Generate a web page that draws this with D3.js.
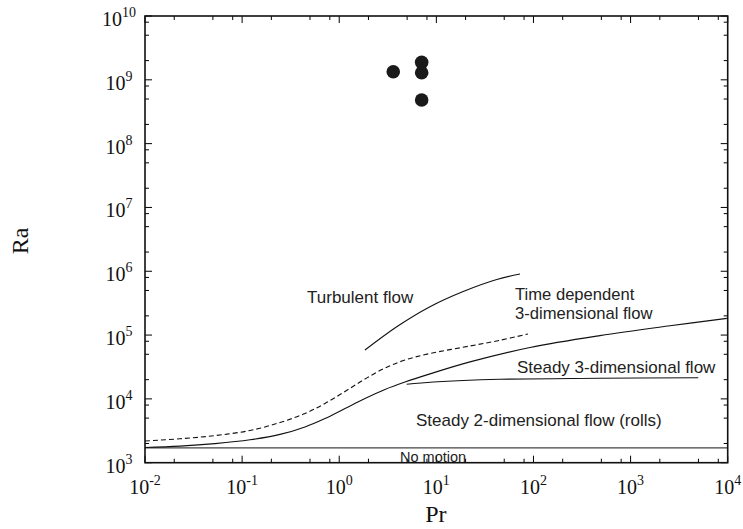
<!DOCTYPE html>
<html>
<head>
<meta charset="utf-8">
<script src="https://cdn.jsdelivr.net/npm/d3@7"></script>
<style>
  html, body { margin: 0; padding: 0; background: #fff; }
  svg { display: block; }
</style>
</head>
<body>
<svg id="chart" width="743" height="529"></svg>
<script>
// ---- data ----
const xDecades = [-2, -1, 0, 1, 2, 3, 4];
const yDecades = [3, 4, 5, 6, 7, 8, 9, 10];
const minorMultipliers = [2, 5, 8];

const noMotionPr = [0.01, 10000];
const noMotionRa = [1708, 1708];

const rollsPr = [0.01, 0.0229, 0.0526, 0.1205, 0.2455, 0.444, 0.7133, 1.146, 1.842, 2.96, 4.755, 8.601, 22.2, 92.09, 483.9, 2545, 9800];
const rollsRa = [1731, 1820, 1992, 2285, 2777, 3640, 4929, 7070, 10140, 14040, 18330, 24640, 37990, 63880, 98150, 139800, 182500];

const dashedPr = [0.01, 0.0229, 0.0526, 0.1205, 0.2455, 0.444, 0.7133, 1.146, 1.842, 2.96, 4.755, 8.601, 22.2, 45.21, 87.84];
const dashedRa = [2188, 2369, 2659, 3196, 4266, 5902, 8469, 13060, 20500, 30490, 40690, 51440, 67430, 82830, 103900];

const turbPr = [1.84, 3.91, 8.6, 18.9, 41.9, 72.6];
const turbRa = [58300, 135200, 278600, 481700, 743000, 905700];

const steady3dPr = [4.95, 9.3, 45.2, 484, 4977];
const steady3dRa = [16940, 18400, 20280, 21040, 21480];

const expPr = [3.6, 7.06, 7.06, 7.06];
const expRa = [1.34e9, 1.88e9, 1.29e9, 4.83e8];

const labelTexts = ["Turbulent flow", "Steady 3-dimensional flow",
  "Steady 2-dimensional flow (rolls)", "No motion"];
const labelPr = [0.466, 67.6, 6.17, 4.23];
const labelRa = [3.18e5, 2.55e4, 3760, 1026];
const timeDepLines = ["Time dependent", "3-dimensional flow"];
const timeDepPr = 64.6, timeDepRa = 3.55e5;

// ---- layout ----
const W = 743, H = 529;
const margin = {left: 145, top: 16, right: 15.3, bottom: 66.3};
const svg = d3.select("#chart");
const x = d3.scaleLog().domain([1e-2, 1e4]).range([margin.left, W - margin.right]);
const y = d3.scaleLog().domain([1e3, 1e10]).range([H - margin.bottom, margin.top]);

const x0 = x.range()[0], x1 = x.range()[1];
const y0 = y.range()[0], y1 = y.range()[1];

// ticks (inside, all four sides)
const majorLen = 7, minorLen = 4;
const xMinor = [], yMinor = [];
xDecades.slice(0, -1).forEach(d => minorMultipliers.forEach(m => xMinor.push(m * Math.pow(10, d))));
yDecades.slice(0, -1).forEach(d => minorMultipliers.forEach(m => yMinor.push(m * Math.pow(10, d))));
const xMajor = xDecades.map(d => Math.pow(10, d));
const yMajor = yDecades.map(d => Math.pow(10, d));

const tickG = svg.append("g").attr("stroke", "#000").attr("stroke-width", 1);
function xTicks(vals, len) {
  vals.forEach(v => {
    const px = x(v);
    tickG.append("line").attr("x1", px).attr("x2", px).attr("y1", y0).attr("y2", y0 - len);
    tickG.append("line").attr("x1", px).attr("x2", px).attr("y1", y1).attr("y2", y1 + len);
  });
}
function yTicks(vals, len) {
  vals.forEach(v => {
    const py = y(v);
    tickG.append("line").attr("x1", x0).attr("x2", x0 + len).attr("y1", py).attr("y2", py);
    tickG.append("line").attr("x1", x1).attr("x2", x1 - len).attr("y1", py).attr("y2", py);
  });
}
xTicks(xMajor, majorLen); xTicks(xMinor, minorLen);
yTicks(yMajor, majorLen); yTicks(yMinor, minorLen);

// tick labels
const serif = "'Liberation Serif', 'Times New Roman', serif";
function powLabel(g, px, py, exp) {
  const t = g.append("text").attr("x", px).attr("y", py)
    .attr("text-anchor", "middle").attr("font-family", serif)
    .attr("font-size", 20).attr("fill", "#111");
  t.append("tspan").text("10");
  t.append("tspan").attr("font-size", 14).attr("dy", -9).text(String(exp));
}
const lblG = svg.append("g");
xDecades.forEach(d => powLabel(lblG, x(Math.pow(10, d)), y0 + 31, d));
yDecades.forEach(d => powLabel(lblG, 119, y(Math.pow(10, d)) + 10, d));

// axis titles
svg.append("text").attr("x", (x0 + x1) / 2 - 0.5).attr("y", 522)
  .attr("text-anchor", "middle").attr("font-family", serif).attr("font-size", 24)
  .attr("fill", "#111").text("Pr");
svg.append("text").attr("transform", "translate(28,241) rotate(-90)")
  .attr("text-anchor", "middle").attr("font-family", serif).attr("font-size", 24)
  .attr("fill", "#111").text("Ra");

// curves
const zip = (a, b) => a.map((v, i) => [v, b[i]]);
const line = d3.line().x(d => x(d[0])).y(d => y(d[1])).curve(d3.curveCatmullRom.alpha(0.5));
const curveG = svg.append("g").attr("fill", "none").attr("stroke", "#111").attr("stroke-width", 1.1);
curveG.append("path").attr("d", d3.line().x(d => x(d[0])).y(d => y(d[1]))(zip(noMotionPr, noMotionRa)))
  .attr("stroke", "#444");
curveG.append("path").attr("d", line(zip(rollsPr, rollsRa)));
curveG.append("path").attr("d", line(zip(dashedPr, dashedRa))).attr("stroke-dasharray", "5,3");
curveG.append("path").attr("d", line(zip(turbPr, turbRa)));
curveG.append("path").attr("d", line(zip(steady3dPr, steady3dRa)));

// experimental points
svg.append("g").selectAll("circle").data(zip(expPr, expRa)).join("circle")
  .attr("cx", d => x(d[0])).attr("cy", d => y(d[1])).attr("r", 6.8).attr("fill", "#1a1a1a");

// annotations
const sans = "'Liberation Sans', Arial, Helvetica, sans-serif";
svg.append("g").selectAll("text").data(labelTexts).join("text")
  .attr("x", (d, i) => x(labelPr[i])).attr("y", (d, i) => y(labelRa[i]))
  .attr("font-family", sans).attr("font-size", (d, i) => i === 3 ? 14.5 : 17)
  .attr("fill", "#222").text(d => d);
const td = svg.append("text").attr("font-family", sans).attr("font-size", 16.6).attr("fill", "#222")
  .attr("x", x(timeDepPr)).attr("y", y(timeDepRa));
timeDepLines.forEach((s, i) => td.append("tspan").attr("x", x(timeDepPr)).attr("dy", i === 0 ? 0 : 19).text(s));

// frame
svg.append("rect").attr("x", x0).attr("y", y1).attr("width", x1 - x0).attr("height", y0 - y1)
  .attr("fill", "none").attr("stroke", "#111").attr("stroke-width", 1.6);
</script>
</body>
</html>
